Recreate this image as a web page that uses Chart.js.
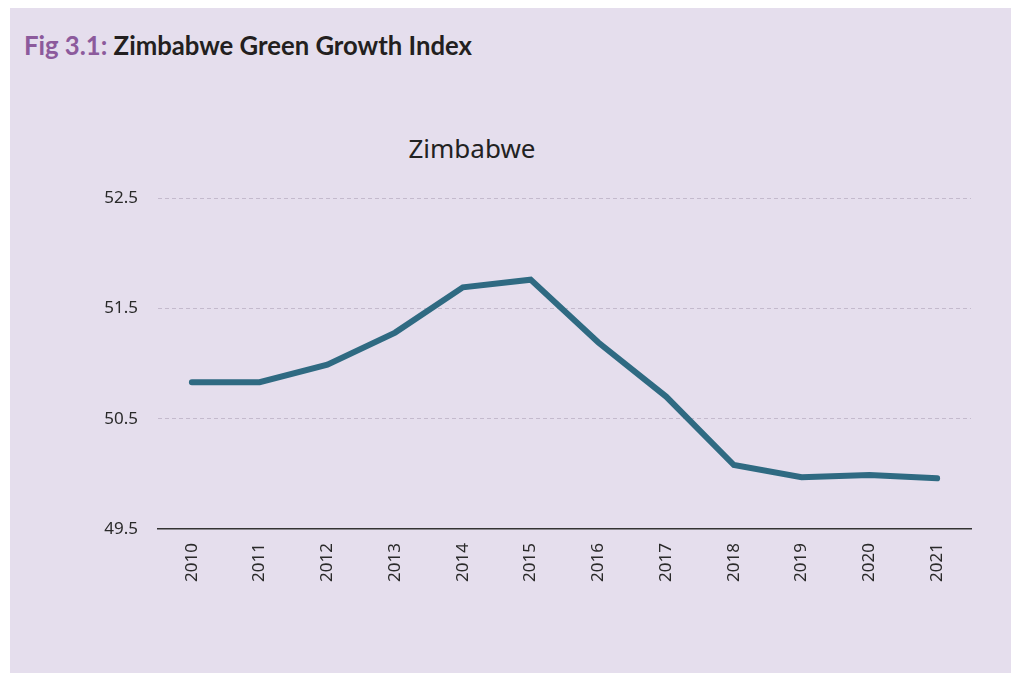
<!DOCTYPE html>
<html>
<head>
<meta charset="utf-8">
<script src="https://cdn.jsdelivr.net/npm/chart.js@4"></script>
<style>
  html, body { margin: 0; padding: 0; background: #ffffff; }
  #panel { position: absolute; left: 10px; top: 8px; width: 1001px; height: 665px; background: #e5deed; }
  #fig { position: absolute; left: 24px; top: 30px; font-family: Lato, sans-serif; font-weight: 700; font-size: 25.7px; color: #231f20; white-space: nowrap; }
  #fig span { color: #8c5a9c; }
  #ctitle { position: absolute; left: 372px; width: 200px; top: 130px; text-align: center; font-family: "Noto Sans", sans-serif; font-size: 26px; color: #222222; }
  #wrap { position: absolute; left: 0; top: 0; width: 1013px; height: 675px; }
</style>
</head>
<body>
<div id="panel"></div>
<div id="fig"><span>Fig 3.1:</span> Zimbabwe Green Growth Index</div>
<div id="ctitle">Zimbabwe</div>
<div id="wrap"><canvas id="chart" width="1013" height="675"></canvas></div>
<script>
const years = ["2010", "2011", "2012", "2013", "2014", "2015", "2016", "2017", "2018", "2019", "2020", "2021"];
const indexValues = [50.83, 50.83, 50.99, 51.28, 51.69, 51.76, 51.19, 50.70, 50.08, 49.97, 49.99, 49.96];
const yTicks = [49.5, 50.5, 51.5, 52.5];

const ctx = document.getElementById("chart").getContext("2d");
new Chart(ctx, {
  type: "line",
  data: {
    labels: years,
    datasets: [{
      label: "Zimbabwe",
      data: indexValues,
      borderColor: "#2f6a82",
      borderWidth: 6,
      borderCapStyle: "round",
      borderJoinStyle: "miter",
      pointRadius: 0,
      tension: 0,
      fill: false
    }]
  },
  options: {
    responsive: false,
    animation: false,
    layout: { padding: { left: 0, right: 42, top: 198, bottom: 0 } },
    plugins: {
      legend: { display: false },
      tooltip: { enabled: false },
      title: { display: false }
    },
    scales: {
      x: {
        offset: true,
        grid: { display: false, drawTicks: false },
        border: { display: true, color: "#333333", width: 1.5 },
        ticks: {
          color: "#2a2a2a",
          font: { family: "Noto Sans", size: 17 },
          minRotation: 90,
          maxRotation: 90,
          padding: 14
        },
        afterFit: scale => { scale.height = 146; }
      },
      y: {
        min: 49.5,
        max: 52.5,
        afterBuildTicks: scale => { scale.ticks = yTicks.map(v => ({ value: v })); },
        grid: {
          drawTicks: false,
          color: c => c.tick && c.tick.value === 49.5 ? "rgba(0,0,0,0)" : "#c4bacd",
          lineWidth: 1
        },
        border: { display: false, dash: [4, 3] },
        ticks: {
          color: "#2a2a2a",
          font: { family: "Noto Sans", size: 17 },
          padding: 20,
          callback: v => Number(v).toFixed(1)
        },
        afterFit: scale => { scale.width = 158; }
      }
    }
  }
});
</script>
</body>
</html>
